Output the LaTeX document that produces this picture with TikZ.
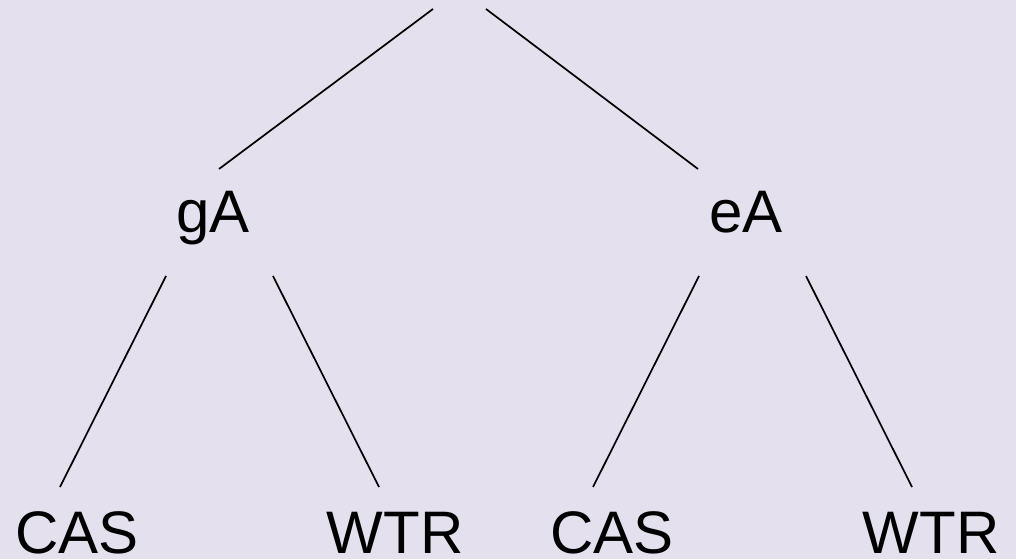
\documentclass[tikz,border=0pt]{standalone}
\usepackage{fontspec}
\setmainfont{Liberation Sans}
\definecolor{bg}{RGB}{229,224,238}
\begin{document}
\begin{tikzpicture}[x=1pt,y=1pt,
  lbl/.style={anchor=base, inner sep=0pt, text depth=0pt, font=\fontsize{60}{72}\selectfont},
  edge/.style={line width=1.7pt, black}]
\fill[bg] (0,0) rectangle (1016,559);
\useasboundingbox (0,0) rectangle (1016,559);
% labels (baseline y = 559 - baseline px)
\node[lbl] (gA) at (213,{559-233}) {gA};
\node[lbl] (eA) at (746,{559-233}) {eA};
\node[lbl] (cas1) at (77,{559-553}) {CAS};
\node[lbl] (wtr1) at (395,{559-553}) {WTR};
\node[lbl] (cas2) at (612,{559-553}) {CAS};
\node[lbl] (wtr2) at (931,{559-553}) {WTR};
% connector end points
\coordinate (rootL) at (433,{559-9});
\coordinate (rootR) at (486,{559-9});
\coordinate (gAtop) at (219,{559-169});
\coordinate (eAtop) at (698,{559-169});
\coordinate (gAL) at (166,{559-276});
\coordinate (gAR) at (273,{559-276});
\coordinate (eAL) at (699,{559-276});
\coordinate (eAR) at (806,{559-276});
\coordinate (cas1top) at (60,{559-487});
\coordinate (wtr1top) at (379,{559-487});
\coordinate (cas2top) at (593,{559-487});
\coordinate (wtr2top) at (912,{559-487});
\draw[edge] (rootL) -- (gAtop);
\draw[edge] (rootR) -- (eAtop);
\draw[edge] (gAL) -- (cas1top);
\draw[edge] (gAR) -- (wtr1top);
\draw[edge] (eAL) -- (cas2top);
\draw[edge] (eAR) -- (wtr2top);
\end{tikzpicture}
\end{document}
